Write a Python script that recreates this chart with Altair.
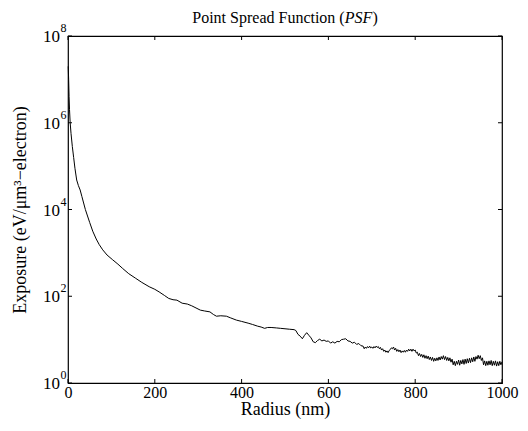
import altair as alt
import pandas as pd

# ---- data (radius in nm, exposure as log10 readings) ----
radius_nm = [
    0.5, 1.5, 2.5, 3.5, 5, 7, 10, 13, 16, 20, 24, 28, 32, 36, 40, 45, 50, 57, 65, 72,
    80, 90, 103, 115, 126, 140, 155, 170, 187, 200, 210, 222, 232, 242, 251, 263, 275,
    285, 295, 305, 315, 327, 335, 342, 352, 365, 375, 388, 400, 415, 425, 437, 445, 453,
    460, 468, 480, 490, 500, 510, 521,
    525, 530, 535, 540, 545, 550, 555, 560, 565, 570, 575, 580, 585, 590, 595, 600, 605,
    610, 615, 620, 625, 630, 635, 640, 645, 650, 655, 660, 665, 670, 675, 680,
    682.5, 685, 687.5, 690, 692.5, 695, 697.5, 700, 702.5, 705, 707.5, 710, 712.5, 715,
    717.5, 720, 722.5, 725, 727.5, 730, 732.5, 735, 737.5, 740, 742.5, 745, 747.5, 750,
    752.5, 755, 757.5, 760, 762.5, 765, 767.5, 770, 772.5, 775, 777.5, 780, 782.5, 785,
    787.5, 790, 792.5, 795, 797.5, 800, 802.5, 805, 807.5, 810, 812.5, 815, 817.5, 820,
    822.5, 825, 827.5, 830, 832.5, 835, 837.5, 840, 842.5, 845, 847.5, 850, 852.5, 855,
    857.5, 860, 862.5, 865, 867.5, 870, 872.5, 875, 877.5, 880, 882.5, 885, 887.5, 890,
    892.5, 895, 897.5, 900, 902.5, 905, 907.5, 910, 912.5, 915, 917.5, 920, 922.5, 925,
    927.5, 930, 932.5, 935, 937.5, 940, 942.5, 945, 947.5, 950, 952.5, 955, 957.5, 960,
    962.5, 965, 967.5, 970, 972.5, 975, 977.5, 980, 982.5, 985, 987.5, 990, 992.5, 995,
    997.5, 1000,
]
exposure_log10 = [
    7.30, 7.00, 6.60, 6.30, 6.00, 5.75, 5.45, 5.20, 4.95, 4.68, 4.55, 4.45, 4.30, 4.15,
    4.00, 3.85, 3.70, 3.50, 3.32, 3.19, 3.07, 2.95, 2.84, 2.74, 2.64, 2.52, 2.42, 2.32,
    2.22, 2.16, 2.10, 2.02, 1.95, 1.92, 1.91, 1.84, 1.82, 1.78, 1.73, 1.68, 1.66, 1.64,
    1.58, 1.54, 1.55, 1.54, 1.50, 1.45, 1.42, 1.38, 1.35, 1.31, 1.29, 1.26, 1.28, 1.28,
    1.27, 1.26, 1.25, 1.24, 1.23,
    1.21, 1.12, 1.08, 1.02, 1.10, 1.16, 1.10, 1.04, 0.95, 0.93, 0.98, 1.01, 0.97, 0.99,
    0.96, 0.97, 0.92, 0.95, 0.92, 0.96, 0.95, 1.00, 1.01, 1.02, 0.97, 0.96, 0.92, 0.94,
    0.89, 0.91, 0.86, 0.85,
    0.79, 0.83, 0.80, 0.84, 0.81, 0.85, 0.81, 0.83, 0.80, 0.84, 0.81, 0.85, 0.82, 0.84,
    0.79, 0.82, 0.76, 0.79, 0.73, 0.76, 0.71, 0.74, 0.70, 0.75, 0.77, 0.81, 0.79, 0.83,
    0.76, 0.80, 0.73, 0.77, 0.72, 0.76, 0.70, 0.74, 0.71, 0.75, 0.71, 0.76, 0.73, 0.78,
    0.74, 0.78, 0.73, 0.78, 0.74, 0.76, 0.69, 0.71, 0.63, 0.68, 0.61, 0.66, 0.59, 0.65,
    0.57, 0.63, 0.56, 0.62, 0.54, 0.60, 0.52, 0.59, 0.50, 0.57, 0.51, 0.58, 0.52, 0.60,
    0.53, 0.61, 0.55, 0.63, 0.54, 0.61, 0.52, 0.59, 0.51, 0.58, 0.48, 0.55, 0.42, 0.50,
    0.40, 0.50, 0.43, 0.53, 0.41, 0.52, 0.44, 0.54, 0.43, 0.55, 0.45, 0.56, 0.46, 0.57,
    0.47, 0.58, 0.49, 0.60, 0.50, 0.61, 0.55, 0.64, 0.56, 0.63, 0.52, 0.58, 0.42, 0.51,
    0.40, 0.50, 0.41, 0.51, 0.42, 0.52, 0.40, 0.50, 0.41, 0.51, 0.39, 0.49, 0.40, 0.50,
    0.42, 0.49,
]
x_ticks = [0, 200, 400, 600, 800, 1000]
y_ticks = [1, 1e2, 1e4, 1e6, 1e8]
y_exponents = ["0", "2", "4", "6", "8"]

title_main = "Point Spread Function ("
title_italic = "PSF"
title_close = ")"
x_title = "Radius (nm)"
y_title = "Exposure (eV/\u03bcm\u00b3\u2212electron)"

W, H = 434, 347
FONT = "Liberation Serif"

df = pd.DataFrame({"r": radius_nm, "e": [10 ** v for v in exposure_log10]})
xt = pd.DataFrame({"t": x_ticks})
yt = pd.DataFrame({"t": y_ticks, "exp": y_exponents, "base": ["10"] * len(y_ticks)})

xs = alt.Scale(domain=[0, 1000], nice=False, zero=False)
ys = alt.Scale(type="log", domain=[1, 1e8], nice=False)

x_axis = alt.Axis(values=x_ticks, format="d", grid=False, ticks=False, domain=False, tickSize=0,
                  labelFont=FONT, labelFontSize=16, labelColor="black", labelPadding=1,
                  title=x_title, titleFont=FONT, titleFontSize=18, titleFontWeight="normal",
                  titleColor="black", titlePadding=0, labelFlush=False)
y_axis = alt.Axis(values=y_ticks, grid=False, ticks=False, domain=False, labels=False,
                  title=y_title, titleFont=FONT, titleFontSize=18, titleFontWeight="normal",
                  titleColor="black", titlePadding=39)

line = alt.Chart(df).mark_line(color="black", strokeWidth=1).encode(
    x=alt.X("r:Q", scale=xs, axis=x_axis),
    y=alt.Y("e:Q", scale=ys, axis=y_axis),
)

tick_b = alt.Chart(xt).mark_rule(color="black", strokeWidth=1).encode(
    x=alt.X("t:Q", scale=xs), y=alt.value(H), y2=alt.value(H - 4))
tick_t = alt.Chart(xt).mark_rule(color="black", strokeWidth=1).encode(
    x=alt.X("t:Q", scale=xs), y=alt.value(0), y2=alt.value(4))
tick_l = alt.Chart(yt).mark_rule(color="black", strokeWidth=1).encode(
    y=alt.Y("t:Q", scale=ys), x=alt.value(0), x2=alt.value(4))
tick_r = alt.Chart(yt).mark_rule(color="black", strokeWidth=1).encode(
    y=alt.Y("t:Q", scale=ys), x=alt.value(W), x2=alt.value(W - 4))

lab_base = alt.Chart(yt).mark_text(font=FONT, fontSize=17, align="right", baseline="middle",
                                   dy=1, color="black").encode(
    y=alt.Y("t:Q", scale=ys), x=alt.value(-8), text="base:N")
lab_exp = alt.Chart(yt).mark_text(font=FONT, fontSize=12, align="left", baseline="middle",
                                  dy=-8, color="black").encode(
    y=alt.Y("t:Q", scale=ys), x=alt.value(-7.5), text="exp:N")

tdf = pd.DataFrame({"a": [title_main], "b": [title_italic], "c": [title_close]})
TS = 16
TY = -13.5
t1 = alt.Chart(tdf).mark_text(font=FONT, fontSize=TS, align="right", baseline="alphabetic",
                              color="black").encode(
    x=alt.value(276.7), y=alt.value(TY), text="a:N")
t2 = alt.Chart(tdf).mark_text(font=FONT, fontSize=TS, fontStyle="italic", align="left",
                              baseline="alphabetic", color="black").encode(
    x=alt.value(276.7), y=alt.value(TY), text="b:N")
t3 = alt.Chart(tdf).mark_text(font=FONT, fontSize=TS, align="left", baseline="alphabetic",
                              color="black").encode(
    x=alt.value(304.6), y=alt.value(TY), text="c:N")

chart = alt.layer(line, tick_b, tick_t, tick_l, tick_r, lab_base, lab_exp, t1, t2, t3).properties(
    width=W, height=H,
    autosize=alt.AutoSizeParams(type="none"),
    padding={"left": 60, "top": 28, "right": 18, "bottom": 40},
    background="white",
).configure_view(stroke="black", strokeWidth=1.2)

chart.save("out.html", embed_options={"renderer": "svg", "actions": False})
